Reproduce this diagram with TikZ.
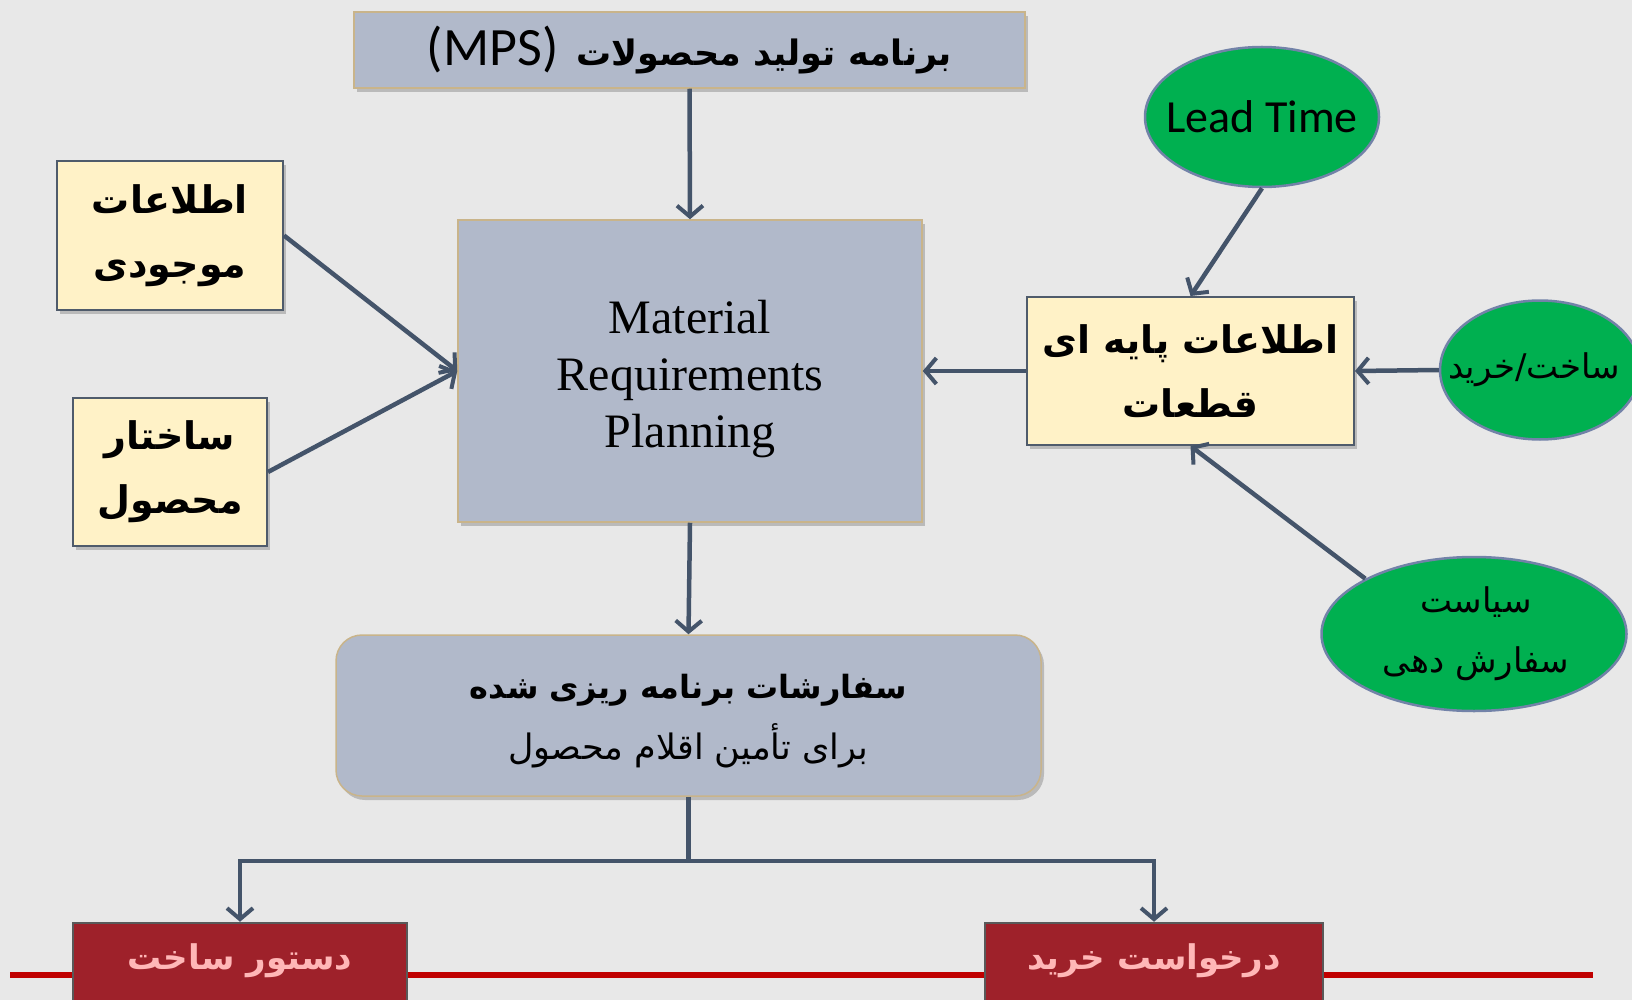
\documentclass[tikz,border=0pt]{standalone}
\usepackage{fontspec}
\setmainfont{Liberation Serif}
\newfontfamily\fa[Script=Arabic]{DejaVu Sans}
\newfontfamily\calib{Carlito}
\TeXXeTstate=1
\usetikzlibrary{arrows.meta,shadows,shapes.geometric}

\definecolor{bg}{HTML}{E8E8E8}
\definecolor{slate}{HTML}{B1B9CA}
\definecolor{tan}{HTML}{C9B48A}
\definecolor{cream}{HTML}{FFF2C7}
\definecolor{boxedge}{HTML}{4F5B6B}
\definecolor{leaf}{HTML}{00B050}
\definecolor{leafedge}{HTML}{7282A8}
\definecolor{wine}{HTML}{9E212A}
\definecolor{pinktext}{HTML}{FFB7B7}
\definecolor{rule}{HTML}{C00000}
\definecolor{link}{HTML}{44546A}

\tikzset{
  softshadow/.style={drop shadow={opacity=0.35,shadow xshift=3pt,shadow yshift=-4pt,fill=black!60}},
  slatebox/.style={rectangle,fill=slate,draw=tan,line width=1.5pt,softshadow,inner sep=0pt},
  infobox/.style={rectangle,fill=cream,draw=boxedge,line width=2pt,softshadow,inner sep=0pt,align=center,
    font=\fa\bfseries\fontsize{38}{64}\selectfont},
  greenoval/.style={ellipse,fill=leaf,draw=leafedge,line width=2.5pt,inner sep=0pt},
  ovaltext/.style={inner sep=0pt,align=center},
  redbox/.style={rectangle,fill=wine,draw=gray!70!black,line width=2.5pt,inner sep=0pt},
  redtext/.style={inner sep=0pt,text=pinktext,font=\fa\bfseries\fontsize{34}{40}\selectfont},
  link/.style={draw=link,line width=4.5pt,-{Straight Barb[length=11pt,width=26pt,line width=4pt]}},
}

\begin{document}
\begin{tikzpicture}[x=1pt,y=-1pt]
  % page and background
  \clip (0,0) rectangle (1632,1000);
  \fill[bg] (0,0) rectangle (1632,1000);

  % red base rule behind the output boxes
  \draw[rule,line width=6pt] (10,975) -- (1593,975);

  % master production schedule
  \node[slatebox,minimum width=671pt,minimum height=76pt] (mps) at (689.5,50)
    {{\calib\fontsize{54}{56}\selectfont (MPS)}\hspace{18pt}{\fa\bfseries\fontsize{35}{50}\selectfont\beginR برنامه تولید محصولات\endR}};

  % central MRP block
  \node[slatebox,minimum width=464pt,minimum height=302pt] (mrp) at (690,371) {};
  \node[align=center,inner sep=0pt,font=\fontsize{48}{57}\selectfont] (mrpt) at (690,379)
    {Material\\Requirements\\Planning};

  % inputs on the left
  \node[infobox,minimum width=226pt,minimum height=149pt] (inv) at (170,235.5)
    {\beginR اطلاعات\endR\\\beginR موجودی\endR};
  \node[infobox,minimum width=194pt,minimum height=148pt] (bom) at (170,472)
    {\beginR ساختار\endR\\\beginR محصول\endR};

  % item master data and its inputs
  \node[infobox,minimum width=327pt,minimum height=148pt] (base) at (1190.5,371)
    {\beginR اطلاعات پایه ای\endR\\\beginR قطعات\endR};
  \node[greenoval,minimum width=234pt,minimum height=140pt] (lead) at (1262,117) {};
  \node[ovaltext,font=\calib\fontsize{46}{50}\selectfont] (leadt) at (1262,117) {Lead Time};
  \node[greenoval,minimum width=200pt,minimum height=139pt] (mkbuy) at (1540,370) {};
  \node[ovaltext,font=\fa\fontsize{34}{40}\selectfont] (mkbuyt) at (1534,370) {\beginR ساخت/خرید\endR};
  \node[greenoval,minimum width=305pt,minimum height=154pt] (policy) at (1474,634) {};
  \node[ovaltext,font=\fa\fontsize{34}{60}\selectfont] (policyt) at (1476,634)
    {\beginR سیاست\endR\\\beginR سفارش دهی\endR};

  % planned orders
  \node[slatebox,rounded corners=26pt,minimum width=705pt,minimum height=161pt] (plan) at (688.5,715.5) {};
  \node[inner sep=0pt,font=\fa\bfseries\fontsize{32}{40}\selectfont] (plant1) at (688.5,690)
    {\beginR سفارشات برنامه ریزی شده\endR};
  \node[inner sep=0pt,font=\fa\fontsize{35}{40}\selectfont] (plant2) at (688.5,746)
    {\beginR برای تأمین اقلام محصول\endR};

  % outputs
  \node[redbox,minimum width=334pt,minimum height=87pt] (make) at (240,966.5) {};
  \node[redtext] (maket) at (240,961) {\beginR دستور ساخت\endR};
  \node[redbox,minimum width=338pt,minimum height=87pt] (buy) at (1154,966.5) {};
  \node[redtext] (buyt) at (1154,961) {\beginR درخواست خرید\endR};

  % connectors
  \draw[link] (mps.south) -- (mrp.north);
  \draw[link] (inv.east) -- (mrp.west);
  \draw[link] (bom.east) -- (mrp.west);
  \draw[link] (base.west) -- (mrp.east);
  \draw[link] (lead.south) -- (base.north);
  \draw[link] (mkbuy.west) -- (base.east);
  \draw[link] (policy.north west) -- (base.south);
  \draw[link] (mrp.south) -- (plan.north);
  \draw[link] (plan.south) -- ++(0,64) -| (make.north);
  \draw[link] (plan.south) -- ++(0,64) -| (buy.north);
\end{tikzpicture}
\end{document}
